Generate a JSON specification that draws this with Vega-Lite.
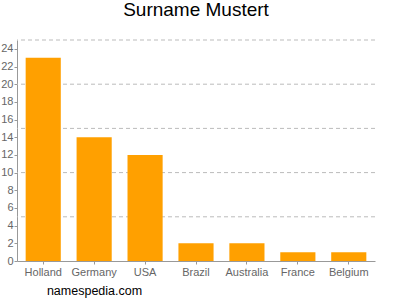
{
  "$schema": "https://vega.github.io/schema/vega-lite/v6.json",
  "width": 358,
  "height": 221,
  "autosize": {"type": "none"},
  "padding": {"left": 17, "top": 40, "right": 25, "bottom": 39},
  "background": "white",
  "title": {
    "text": "Surname Mustert",
    "font": "Liberation Sans",
    "fontSize": 19,
    "fontWeight": "normal",
    "color": "#000000",
    "anchor": "middle",
    "offset": 20
  },
  "data": {
    "values": [
      {"country": "Holland", "count": 23},
      {"country": "Germany", "count": 14},
      {"country": "USA", "count": 12},
      {"country": "Brazil", "count": 2},
      {"country": "Australia", "count": 2},
      {"country": "France", "count": 1},
      {"country": "Belgium", "count": 1}
    ]
  },
  "config": {
    "view": {"stroke": null},
    "font": "Liberation Sans",
    "axisY": {
      "title": null,
      "values": [0, 2, 4, 6, 8, 10, 12, 14, 16, 18, 20, 22, 24],
      "labelFontSize": 11,
      "labelColor": "#666666",
      "labelPadding": 1,
      "labelOverlap": false,
      "labelFlush": false,
      "domainColor": "#999999",
      "tickColor": "#999999",
      "tickSize": 3,
      "grid": false
    }
  },
  "layer": [
    {
      "mark": {"type": "rule", "stroke": "#bbbbbb", "strokeDash": [4, 3], "strokeWidth": 1},
      "data": {"values": [{"g": 5}, {"g": 10}, {"g": 15}, {"g": 20}, {"g": 25}]},
      "encoding": {
        "y": {
          "field": "g",
          "type": "quantitative",
          "scale": {"domain": [0, 25], "nice": false},
          "axis": {"title": null, "values": [0, 2, 4, 6, 8, 10, 12, 14, 16, 18, 20, 22, 24], "labelOverlap": false}
        }
      }
    },
    {
      "mark": {"type": "bar", "color": "#ffa000"},
      "encoding": {
        "x": {
          "field": "country",
          "type": "nominal",
          "sort": null,
          "scale": {"paddingInner": 0.31, "paddingOuter": 0.17},
          "axis": {
            "title": "namespedia.com",
            "titleFont": "Liberation Sans",
            "titleFontSize": 12.5,
            "titleFontWeight": "normal",
            "titleColor": "#000000",
            "titleAnchor": "start",
            "titleAlign": "center",
            "titleX": 77,
            "titleY": 33,
            "titleBaseline": "alphabetic",
            "labelAngle": 0,
            "labelFontSize": 11,
            "labelColor": "#666666",
            "labelPadding": 2,
            "labelOverlap": false,
            "domainColor": "#999999",
            "tickColor": "#999999",
            "tickSize": 3,
            "grid": false
          }
        },
        "y": {
          "field": "count",
          "type": "quantitative",
          "scale": {"domain": [0, 25], "nice": false},
          "axis": {"title": null, "values": [0, 2, 4, 6, 8, 10, 12, 14, 16, 18, 20, 22, 24], "labelOverlap": false}
        }
      }
    }
  ]
}
